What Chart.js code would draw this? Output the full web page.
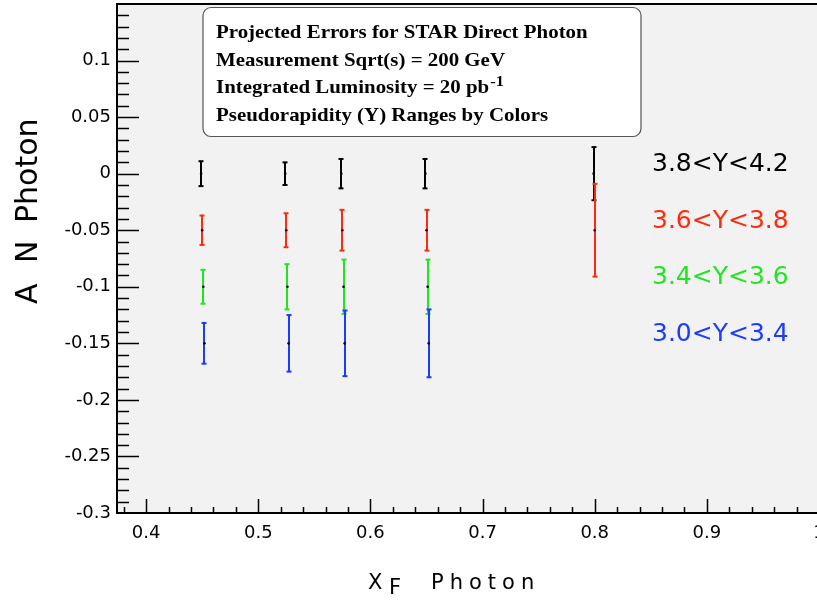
<!DOCTYPE html>
<html lang="en">
<head>
  <meta charset="UTF-8" />
  <title>STAR Direct Photon A_N projection</title>
  <script src="https://cdn.jsdelivr.net/npm/chart.js"></script>
  <style>
    html, body {
      margin: 0;
      padding: 0;
      background: white;
      overflow: hidden;
    }
    .wrap {
      width: 840px;
      height: 606px;
    }
  </style>
</head>
<body>
  <div class="wrap">
    <canvas id="anChart" width="840" height="606"></canvas>
  </div>

  <script>
    // x_F positions (each range is nudged a little so the bars don't overlap)
    const blackX = [0.449, 0.524, 0.574, 0.649, 0.799];
    const redX   = [0.450, 0.525, 0.575, 0.650, 0.800];
    const greenX = [0.451, 0.526, 0.576, 0.651];
    const blueX  = [0.452, 0.527, 0.577, 0.652];

    // central A_N values
    const blackY = [0, 0, 0, 0, 0];
    const redY   = [-0.05, -0.05, -0.05, -0.05, -0.05];
    const greenY = [-0.1, -0.1, -0.1, -0.1];
    const blueY  = [-0.15, -0.15, -0.15, -0.15];

    // projected errors
    const blackErr = [0.011, 0.010, 0.013, 0.013, 0.0235];
    const redErr   = [0.013, 0.015, 0.018, 0.018, 0.041];
    const greenErr = [0.015, 0.020, 0.024, 0.024];
    const blueErr  = [0.018, 0.025, 0.029, 0.030];

    const rangeLabels = ["3.8<Y<4.2", "3.6<Y<3.8", "3.4<Y<3.6", "3.0<Y<3.4"];
    const colors = ["#000000", "#ff2a0d", "#1fe61f", "#1a3cff"];

    const xTicks = [0.4, 0.5, 0.6, 0.7, 0.8, 0.9, 1.0];
    const yTicks = [-0.3, -0.25, -0.2, -0.15, -0.1, -0.05, 0, 0.05, 0.1];

    const infoLines = [
      "Projected Errors for STAR Direct Photon",
      "Measurement Sqrt(s) = 200 GeV",
      "Integrated Luminosity = 20 pb",
      "Pseudorapidity (Y) Ranges by Colors"
    ];

    const series = [
      { x: blackX, y: blackY, err: blackErr },
      { x: redX, y: redY, err: redErr },
      { x: greenX, y: greenY, err: greenErr },
      { x: blueX, y: blueY, err: blueErr }
    ];

    const fmt = v => String(parseFloat(v.toFixed(2)));
    const tickFont = { family: "DejaVu Sans", size: 18 };

    const rootStyle = {
      id: "rootStyle",
      beforeDraw(chart) {
        const { ctx, chartArea: a } = chart;
        ctx.save();
        ctx.fillStyle = "#f2f2f2";
        ctx.fillRect(a.left, a.top, a.right - a.left, a.bottom - a.top);
        ctx.restore();
      },
      beforeDatasetsDraw(chart) {
        // error bars with small caps
        const { ctx } = chart;
        const xs = chart.scales.x, ys = chart.scales.y;
        ctx.save();
        series.forEach((s, i) => {
          ctx.strokeStyle = colors[i];
          ctx.fillStyle = colors[i];
          ctx.lineWidth = 2;
          s.x.forEach((xv, j) => {
            const px = Math.round(xs.getPixelForValue(xv));
            const top = ys.getPixelForValue(s.y[j] + s.err[j]);
            const bot = ys.getPixelForValue(s.y[j] - s.err[j]);
            ctx.beginPath();
            ctx.moveTo(px, top);
            ctx.lineTo(px, bot);
            ctx.stroke();
            ctx.fillRect(px - 2.5, top - 1, 5, 2);
            ctx.fillRect(px - 2.5, bot - 1, 5, 2);
          });
        });
        ctx.restore();
      },
      afterDraw(chart) {
        const { ctx, chartArea: a } = chart;
        const xs = chart.scales.x, ys = chart.scales.y;
        ctx.save();

        // top frame line
        ctx.strokeStyle = "#000";
        ctx.lineWidth = 2;
        ctx.beginPath();
        ctx.moveTo(a.left, a.top);
        ctx.lineTo(a.right + 5, a.top);
        ctx.stroke();

        // inward ticks
        ctx.lineWidth = 1.5;
        for (let i = -29; i <= 14; i++) {
          const py = Math.round(ys.getPixelForValue(i / 100)) + 0.5;
          const len = i % 5 === 0 ? 22 : 12;
          ctx.beginPath();
          ctx.moveTo(a.left, py);
          ctx.lineTo(a.left + len, py);
          ctx.stroke();
        }
        for (let i = 38; i <= 100; i += 2) {
          const px = Math.round(xs.getPixelForValue(i / 100)) + 0.5;
          const len = i % 10 === 0 ? 14 : 6;
          ctx.beginPath();
          ctx.moveTo(px, a.bottom);
          ctx.lineTo(px, a.bottom - len);
          ctx.stroke();
        }

        // range labels
        ctx.font = "25px 'DejaVu Sans'";
        ctx.textBaseline = "middle";
        ctx.textAlign = "left";
        const labelY = [164, 221, 277, 334];
        rangeLabels.forEach((t, i) => {
          ctx.fillStyle = colors[i];
          ctx.fillText(t, 652, labelY[i]);
        });

        // info box
        ctx.fillStyle = "#ffffff";
        ctx.strokeStyle = "#555";
        ctx.lineWidth = 1.2;
        ctx.beginPath();
        ctx.roundRect(203, 7.5, 438, 129, 8);
        ctx.fill();
        ctx.stroke();
        ctx.fillStyle = "#000";
        ctx.textBaseline = "alphabetic";
        ctx.save();
        ctx.translate(216, 0);
        ctx.scale(1.1, 1);
        ctx.font = "bold 19px 'Liberation Serif'";
        const base = [38, 65.5, 93, 120.5];
        infoLines.forEach((t, i) => ctx.fillText(t, 0, base[i]));
        const w = ctx.measureText(infoLines[2]).width;
        ctx.font = "bold 15px 'Liberation Serif'";
        ctx.fillText("-1", w + 1, base[2] - 7);
        ctx.restore();

        // axis titles
        ctx.fillStyle = "#000";
        ctx.font = "21px 'DejaVu Sans'";
        ctx.letterSpacing = "6px";
        ctx.fillText("X", 368, 589);
        ctx.fillText("F", 389, 594);
        ctx.fillText("Photon", 431, 589);
        ctx.letterSpacing = "0px";

        ctx.translate(37, 304);
        ctx.rotate(-Math.PI / 2);
        ctx.font = "30px 'DejaVu Sans'";
        ctx.fillText("A", 0, 0);
        ctx.fillText("N", 41, 0);
        ctx.fillText("Photon", 81, 0);
        ctx.restore();
      }
    };

    new Chart(document.getElementById("anChart"), {
      type: "scatter",
      data: {
        datasets: series.map((s, i) => ({
          label: rangeLabels[i],
          data: s.x.map((xv, j) => ({ x: xv, y: s.y[j] })),
          pointRadius: 1.3,
          pointBorderWidth: 0,
          pointBackgroundColor: "#000"
        }))
      },
      options: {
        responsive: false,
        animation: false,
        layout: { padding: { left: 0, top: 3, right: 21, bottom: 0 } },
        plugins: { legend: { display: false }, tooltip: { enabled: false } },
        scales: {
          x: {
            type: "linear",
            min: 0.374,
            max: 1.0,
            afterFit: s => {
              s.height = 93;
              s.paddingLeft = 0; s.paddingRight = 0;
            },
            afterBuildTicks: s => { s.ticks = xTicks.map(v => ({ value: v })); },
            grid: { display: false, drawTicks: false },
            border: { display: true, color: "#000", width: 2 },
            ticks: {
              font: tickFont, color: "#000", padding: 10,
              maxRotation: 0, autoSkip: false,
              callback: v => fmt(v)
            }
          },
          y: {
            type: "linear",
            min: -0.3,
            max: 0.15,
            afterFit: s => {
              s.width = 117;
              s.paddingTop = 0; s.paddingBottom = 0;
            },
            afterBuildTicks: s => { s.ticks = yTicks.map(v => ({ value: v })); },
            grid: { display: false, drawTicks: false },
            border: { display: true, color: "#000", width: 2 },
            ticks: {
              font: tickFont, color: "#000", padding: 6,
              autoSkip: false,
              callback: v => fmt(v)
            }
          }
        }
      },
      plugins: [rootStyle]
    });
  </script>
</body>
</html>
